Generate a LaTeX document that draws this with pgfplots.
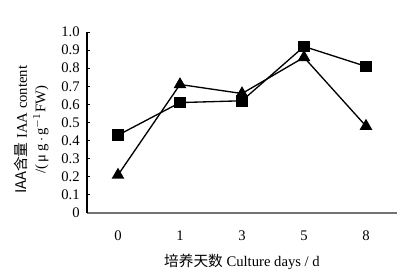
\documentclass[border=0pt]{standalone}
\usepackage{pgfplots}
\pgfplotsset{compat=1.18}
\usepackage{fontspec}
\setmainfont{Liberation Serif}
\newfontfamily\cjk{Noto Sans CJK SC}
\begin{document}
\begin{tikzpicture}[x=0.75pt,y=0.75pt]
\useasboundingbox (-87,-66) rectangle (318,213);
\begin{axis}[
  at={(0,0)}, anchor=south west,
  scale only axis,
  width=232.5pt, height=135.75pt,
  xmin=-0.5, xmax=4.5,
  ymin=0, ymax=1.0,
  axis x line*=bottom, axis y line*=left,
  x axis line style={draw=gray!90!black, line width=1pt, -},
  y axis line style={draw=black, line width=0.8pt, -},
  xtick={0,1,2,3,4},
  xticklabels={0,1,3,5,8},
  extra x ticks={0.5,1.5,2.5,3.5,4.5},
  extra x tick labels={},
  extra x tick style={major tick length=2.5pt, tick style={black, line width=0.6pt}, tick align=inside},
  major x tick style={draw=none},
  ytick={0,0.1,...,1.0},
  yticklabels={0,0.1,0.2,0.3,0.4,0.5,0.6,0.7,0.8,0.9,1.0},
  y tick style={black, line width=0.6pt},
  major tick length=2.5pt,
  tick align=inside,
  tick label style={font=\fontsize{11pt}{13pt}\selectfont},
  /pgf/number format/assume math mode=true,
  xticklabel style={yshift=-10pt},
  yticklabel style={xshift=-2pt},
  xlabel={{\cjk 培养天数} Culture days / d},
  xlabel style={font=\fontsize{11pt}{13pt}\selectfont, at={(axis description cs:0.5,-0.27)}, anchor=center},
  ylabel={\shortstack{{\cjk IAA含量} IAA content\\[1pt]/(\,μ\,g\,$\cdot$\,g$^{-1}$FW)}},
  ylabel style={font=\fontsize{11pt}{12.5pt}\selectfont, at={(axis description cs:-0.179,0.46)}, anchor=center},
  clip=false,
]
\addplot[black, line width=1pt, mark=square*, mark size=3.8pt, mark options={solid}]
  coordinates {(0,0.43) (1,0.61) (2,0.62) (3,0.92) (4,0.81)};
\addplot[black, line width=1pt, mark=triangle*, mark size=4.5pt, mark options={solid}]
  coordinates {(0,0.21) (1,0.71) (2,0.66) (3,0.86) (4,0.48)};
\end{axis}
\end{tikzpicture}
\end{document}
